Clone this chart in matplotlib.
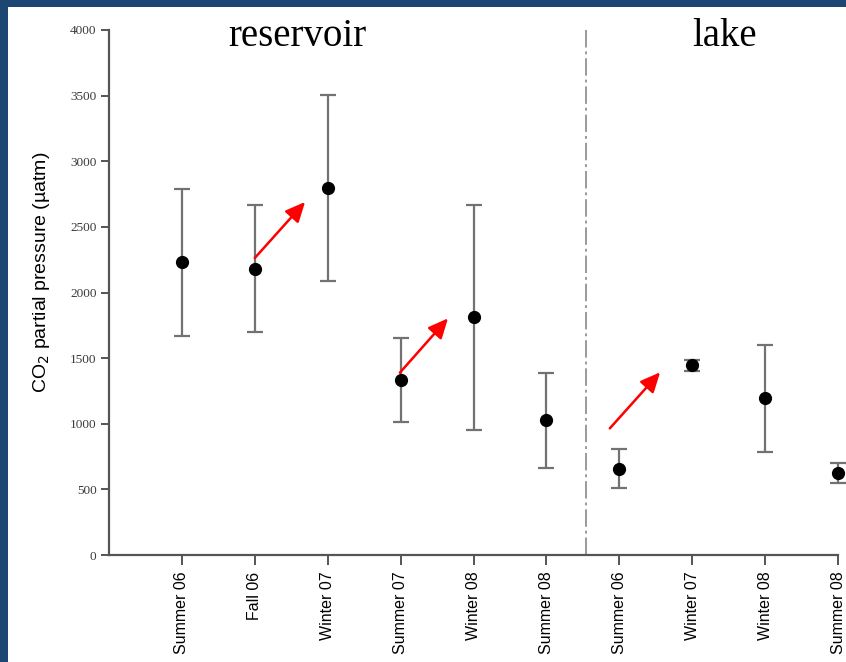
"""
CO2 partial pressure, reservoir vs lake (mean with range bars)
"""
import matplotlib
matplotlib.use("Agg")
import matplotlib.pyplot as plt
from matplotlib.patches import Rectangle

# seasons along the x axis (reservoir first, then lake)
seasons = ["Summer 06", "Fall 06", "Winter 07", "Summer 07", "Winter 08", "Summer 08",
           "Summer 06", "Winter 07", "Winter 08", "Summer 08"]
positions = [1, 2, 3, 4, 5, 6, 7, 8, 9, 10]

# mean pCO2 and the upper / lower ends of the bars (uatm)
pco2_mean = [2230, 2180, 2800, 1330, 1810, 1025, 655, 1445, 1195, 622]
pco2_high = [2790, 2665, 3505, 1650, 2670, 1385, 805, 1483, 1600, 698]
pco2_low = [1670, 1700, 2090, 1015, 950, 665, 508, 1404, 785, 546]

# red arrows: (x0, y0) -> (x1, y1) in data units
arrow_start = [(2.0, 2263), (3.99, 1389), (6.87, 965)]
arrow_end = [(2.69, 2690), (4.65, 1803), (7.56, 1392)]

divider_x = 6.55
yticks = [0, 500, 1000, 1500, 2000, 2500, 3000, 3500, 4000]

BORDER = "#1d4672"
BAR_GREY = "#727272"

fig = plt.figure(figsize=(8.46, 6.62), dpi=100)
fig.patch.set_facecolor(BORDER)
fig.patches.append(Rectangle((8 / 846, 0), 1, 1 - 7 / 662, transform=fig.transFigure,
                             facecolor="white", edgecolor="none", zorder=-1))

ax = fig.add_axes([109 / 846, 1 - 555 / 662, (838 - 109) / 846, (555 - 30) / 662])
ax.set_facecolor("none")
ax.set_zorder(1)

yerr = [[m - lo for m, lo in zip(pco2_mean, pco2_low)],
        [hi - m for m, hi in zip(pco2_mean, pco2_high)]]
ax.errorbar(positions, pco2_mean, yerr=yerr, fmt="o", color="black", markersize=8.5,
            ecolor=BAR_GREY, elinewidth=1.6, capsize=5.5, capthick=1.6, zorder=3,
            clip_on=False)

for (x0, y0), (x1, y1) in zip(arrow_start, arrow_end):
    ax.annotate("", xy=(x1, y1), xytext=(x0, y0),
                arrowprops=dict(arrowstyle="-|>,head_length=1.2,head_width=0.55",
                                color="red", lw=1.8, shrinkA=0, shrinkB=0),
                zorder=4)

ax.axvline(divider_x, color="#9a9a9a", linestyle=(0, (9, 2, 1.5, 2)), lw=1.4, zorder=1)

ax.set_xlim(0, 10)
ax.set_ylim(0, 4000)
ax.set_xticks(positions)
ax.set_xticklabels(seasons, rotation=90, family="Liberation Sans", fontsize=11.5)
ax.set_yticks(yticks)
ax.set_yticklabels([str(t) for t in yticks], family="Liberation Serif", fontsize=9.5,
                   color="#3a3a3a")

for side in ["top", "right"]:
    ax.spines[side].set_visible(False)
for side in ["left", "bottom"]:
    ax.spines[side].set_color("#555555")
    ax.spines[side].set_linewidth(1.6)
ax.tick_params(axis="y", direction="out", length=6, width=1.4, color="#555555", pad=3)
ax.tick_params(axis="x", direction="out", length=7, width=1.4, color="#555555", pad=5)

ax.set_ylabel("CO$_2$ partial pressure (µatm)", family="Liberation Sans", fontsize=14)
ax.yaxis.set_label_coords(-0.078, 0.539)

fig.text(297 / 846, 1 - 37 / 662, "reservoir", family="Liberation Serif", fontsize=28,
         ha="center", va="center")
fig.text(725 / 846, 1 - 37 / 662, "lake", family="Liberation Serif", fontsize=28,
         ha="center", va="center")

fig.savefig("out.png", dpi=100, facecolor=fig.get_facecolor())
